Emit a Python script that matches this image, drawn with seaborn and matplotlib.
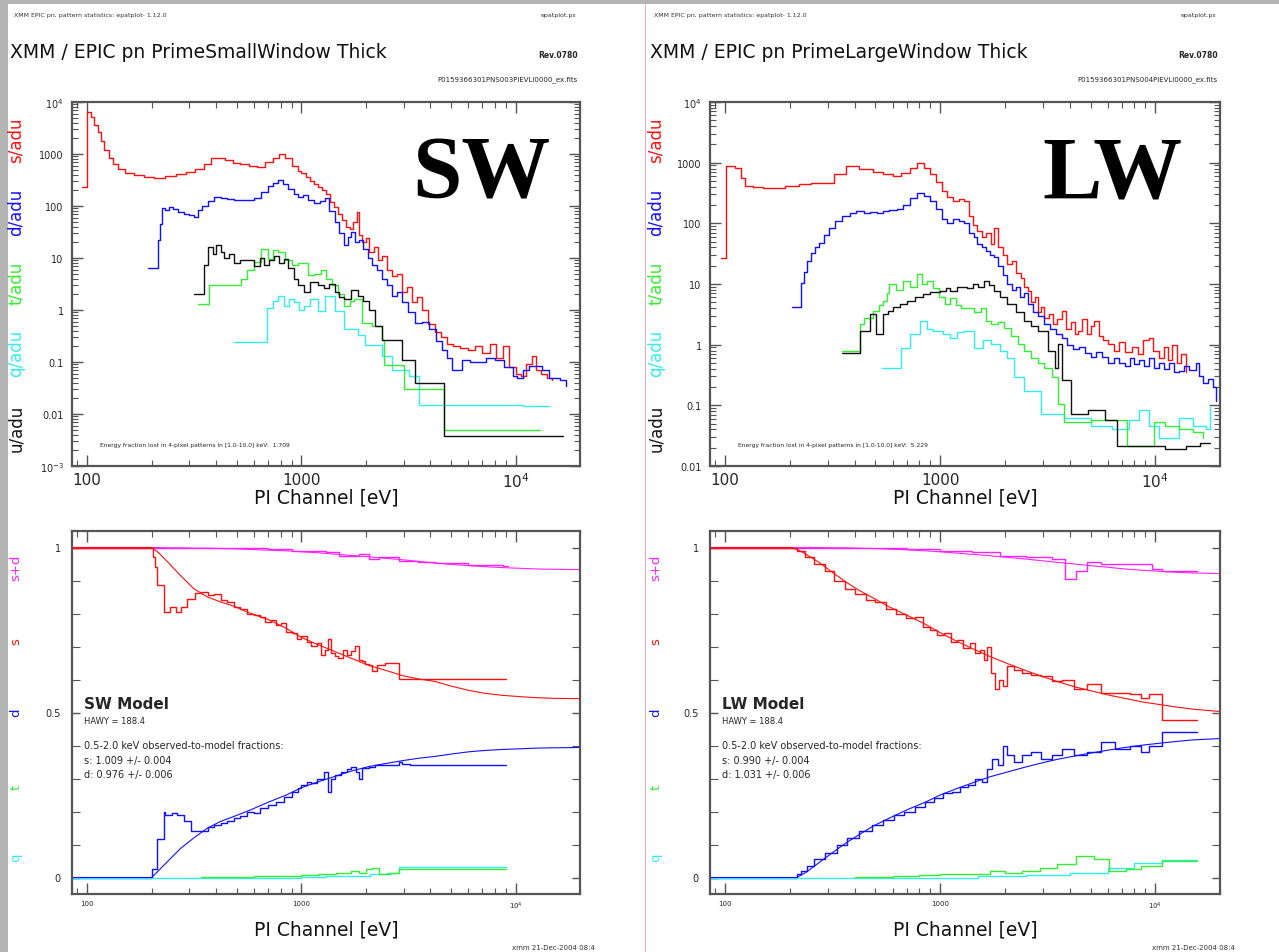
import matplotlib
matplotlib.use("Agg")
import matplotlib.pyplot as plt
import matplotlib.ticker as mticker
from matplotlib.patches import Rectangle
import seaborn as sns

sns.set_style("ticks")
plt.rcParams["font.family"] = ["DejaVu Sans"]

W, H = 1279, 953

# ---------------- SW, top panel (counts per adu) ----------------
sw_s_e = [95, 100, 104, 108, 112, 116, 120, 126, 132, 140,
          150, 165, 185, 205, 230, 260, 290, 320, 350, 380,
          410, 440, 480, 520, 570, 620, 680, 740, 790, 840,
          900, 960, 1000, 1050, 1100, 1150, 1200, 1250, 1300, 1360,
          1420, 1480, 1550, 1620, 1680, 1750, 1810, 1860, 1920, 2000,
          2080, 2180, 2280, 2380, 2500, 2650, 2800, 2960, 3120, 3280,
          3450, 3650, 3900, 4200, 4500, 4800, 5100, 5500, 6000, 6500,
          7000, 7600, 8100, 8700, 9300, 10000, 10600, 11200, 11900, 12500,
          13200, 14000, 14800]
sw_s_v = [230, 6500, 5200, 3600, 2600, 1800, 1200, 850, 650, 520,
          440, 390, 360, 350, 380, 410, 450, 520, 650, 820,
          850, 760, 680, 640, 580, 560, 700, 850, 980, 820,
          600, 480, 440, 360, 300, 270, 230, 200, 170, 120,
          95, 70, 55, 40, 36, 50, 78, 28, 20, 24,
          13, 16, 9, 11, 6, 4.5, 5, 2.2, 2.8, 1.4,
          1.8, 1.0, 0.55, 0.37, 0.3, 0.22, 0.2, 0.19, 0.17, 0.2,
          0.15, 0.22, 0.12, 0.2, 0.08, 0.06, 0.055, 0.09, 0.13, 0.07,
          0.06, 0.05, 0.045]

sw_d_e = [193, 214, 218, 224, 232, 242, 253, 265, 282, 300,
          315, 330, 345, 365, 390, 420, 450, 485, 520, 560,
          600, 650, 700, 740, 780, 820, 870, 920, 970, 1020,
          1080, 1150, 1220, 1290, 1350, 1430, 1500, 1590, 1650, 1710,
          1780, 1850, 1950, 2050, 2130, 2250, 2380, 2500, 2650, 2800,
          2960, 3150, 3380, 3650, 3940, 4250, 4530, 4800, 5050, 5350,
          5640, 6100, 6700, 7300, 8000, 8800, 9700, 10200, 10800, 11500,
          12300, 13300, 14300, 15200, 16100, 17200]
sw_d_v = [6.5, 22, 45, 90, 85, 95, 88, 78, 70, 68,
          62, 85, 100, 125, 150, 140, 135, 130, 128, 132,
          140, 190, 240, 280, 310, 260, 210, 170, 150, 160,
          130, 115, 125, 140, 80, 50, 30, 18, 25, 32,
          20, 22, 15, 10, 7.3, 6, 4, 3, 1.9, 2.2,
          1.4, 0.9, 0.57, 0.6, 0.43, 0.25, 0.17, 0.12, 0.07, 0.07,
          0.11, 0.1, 0.1, 0.12, 0.11, 0.08, 0.055, 0.05, 0.07, 0.085,
          0.085, 0.07, 0.05, 0.05, 0.046, 0.035]

sw_t_e = [328, 370, 453, 522, 560, 600, 650, 700, 740, 780,
          840, 900, 960, 1070, 1150, 1240, 1300, 1390, 1490, 1590,
          1680, 1770, 1910, 2130, 2380, 2430, 3010, 4620, 13000]
sw_t_v = [1.3, 3.0, 3.0, 4.0, 6, 8.5, 15, 9.6, 14, 13,
          9, 7.4, 8, 4.7, 5, 6, 4, 3.0, 2, 1.2,
          1.5, 1.6, 0.57, 0.5, 0.27, 0.086, 0.03, 0.0049, 0.0049]

sw_q_e = [485, 690, 740, 780, 830, 880, 925, 980, 1030, 1100,
          1200, 1290, 1430, 1590, 1840, 1980, 2380, 2650, 3170, 3530,
          10800, 14400]
sw_q_v = [0.24, 1.1, 1.5, 1.9, 1.2, 1.6, 1.4, 1.0, 1.2, 1.6,
          0.95, 1.9, 0.95, 0.43, 0.33, 0.21, 0.13, 0.07, 0.055, 0.015,
          0.014, 0.014]

sw_u_e = [315, 350, 365, 385, 400, 420, 435, 460, 485, 520,
          565, 600, 640, 670, 710, 745, 790, 830, 870, 920,
          970, 1030, 1100, 1200, 1280, 1350, 1430, 1500, 1590, 1700,
          1840, 1950, 2060, 2210, 2380, 2960, 3380, 4620, 16700]
sw_u_v = [2.0, 7.4, 16, 12, 18, 13, 10, 12, 8, 9,
          9, 7, 10, 7.4, 9, 11, 8, 9.5, 6.5, 4,
          3, 2.2, 3.4, 3, 2.6, 3.2, 2.2, 1.8, 1.6, 2.4,
          1.9, 1.5, 1.0, 0.5, 0.27, 0.11, 0.04, 0.0038, 0.0038]

# ---------------- LW, top panel ----------------
lw_s_e = [96, 101, 111, 118, 124, 135, 150, 164, 190, 220,
          250, 282, 320, 365, 420, 485, 540, 600, 660, 720,
          780, 840, 900, 960, 1020, 1080, 1150, 1220, 1290, 1360,
          1420, 1490, 1560, 1640, 1730, 1770, 1850, 1950, 2050, 2150,
          2250, 2380, 2460, 2550, 2650, 2750, 2850, 2950, 3050, 3200,
          3350, 3500, 3670, 3850, 4050, 4250, 4360, 4550, 4800, 5000,
          5200, 5450, 5700, 6050, 6400, 6800, 7200, 7800, 8300, 8800,
          9330, 9800, 10400, 11000, 11500, 12000, 12600, 13200, 13900]
lw_s_v = [27, 890, 820, 560, 410, 390, 380, 380, 420, 450,
          460, 470, 650, 890, 800, 690, 640, 600, 680, 820,
          1000, 820, 650, 480, 340, 270, 230, 250, 230, 130,
          95, 75, 60, 70, 46, 85, 40, 30, 21, 24,
          15, 12.6, 9, 7.7, 5, 6, 3.5, 4.2, 2.7, 3.2,
          2.2, 2.6, 3.6, 1.8, 2.4, 1.5, 1.7, 2.6, 1.5, 2.0,
          2.5, 1.4, 1.2, 1.03, 0.8, 1.1, 0.75, 0.9, 0.7, 1.2,
          1.3, 0.8, 0.6, 0.9, 0.55, 1.0, 0.5, 0.7, 0.36]

lw_d_e = [204, 225, 232, 240, 250, 262, 273, 288, 304, 325,
          350, 380, 407, 440, 470, 506, 540, 580, 627, 670,
          720, 780, 840, 900, 960, 1020, 1080, 1150, 1220, 1290,
          1360, 1430, 1490, 1560, 1640, 1700, 1770, 1850, 1950, 2050,
          2150, 2250, 2350, 2450, 2550, 2700, 2850, 3050, 3250, 3450,
          3670, 3900, 4150, 4400, 4700, 5000, 5300, 5640, 6000, 6400,
          6780, 7200, 7600, 8000, 8400, 8900, 9400, 9900, 10400, 11000,
          11600, 12200, 12900, 13600, 14400, 15400, 16000, 16700, 17600, 18600,
          19200]
lw_d_v = [4.2, 10.5, 16, 24, 32, 40, 48, 65, 85, 110,
          133, 150, 160, 150, 155, 150, 160, 165, 170, 200,
          260, 320, 280, 230, 170, 120, 100, 120, 110, 100,
          70, 60, 46, 40, 35, 30, 28, 20, 14, 10,
          8, 9, 6, 7, 4.7, 3.5, 3.0, 2.2, 1.8, 1.5,
          1.3, 1.0, 0.85, 0.9, 0.73, 0.62, 0.75, 0.62, 0.5, 0.6,
          0.5, 0.45, 0.6, 0.48, 0.55, 0.45, 0.6, 0.42, 0.5, 0.4,
          0.5, 0.35, 0.37, 0.45, 0.38, 0.5, 0.3, 0.23, 0.27, 0.2,
          0.12]

lw_t_e = [350, 425, 440, 485, 520, 540, 565, 580, 620, 670,
          720, 780, 820, 870, 930, 990, 1050, 1110, 1180, 1250,
          1330, 1430, 1540, 1630, 1730, 1850, 1980, 2130, 2300, 2450,
          2650, 2850, 3050, 3300, 3520, 3780, 5050, 7370, 9880, 11100,
          12900, 14900, 16700]
lw_t_v = [0.79, 2.2, 2.8, 3.6, 4.5, 5.3, 7, 10, 8, 11,
          9, 14.6, 10, 11, 8.7, 6, 4.7, 5.8, 4.5, 4.0,
          4.0, 3.5, 4.0, 2.5, 2.2, 2.4, 1.9, 1.4, 1.03, 0.8,
          0.6, 0.5, 0.42, 0.29, 0.107, 0.053, 0.058, 0.021, 0.053, 0.045,
          0.04, 0.036, 0.029]

lw_q_e = [535, 660, 723, 805, 870, 930, 1030, 1110, 1200, 1290,
          1430, 1580, 1730, 1900, 2050, 2200, 2460, 2950, 3780, 5050,
          6280, 7550, 8400, 9330, 10400, 12900, 14900, 17200, 17900]
lw_q_v = [0.42, 0.89, 1.5, 2.5, 1.8, 1.7, 1.5, 1.3, 1.6, 1.7,
          0.89, 1.2, 1.03, 0.8, 0.6, 0.29, 0.175, 0.073, 0.063, 0.046,
          0.04, 0.058, 0.084, 0.046, 0.029, 0.063, 0.046, 0.04, 0.095]

lw_u_e = [350, 425, 470, 505, 540, 570, 600, 650, 700, 760,
          830, 900, 1000, 1060, 1110, 1200, 1330, 1420, 1500, 1590,
          1680, 1770, 1900, 2050, 2250, 2460, 2650, 2860, 3160, 3400,
          3520, 3670, 4060, 4880, 5820, 6610, 11100, 13900, 16100, 17900]
lw_u_v = [0.73, 1.7, 3.2, 1.5, 3.2, 3.6, 4.1, 4.6, 5.3, 6,
          6.9, 7.5, 7.7, 8.5, 7.7, 9, 8.6, 10, 9, 11,
          9.5, 7.7, 6, 4.7, 3.5, 2.5, 2.0, 1.7, 0.79, 0.42,
          1.03, 0.26, 0.073, 0.084, 0.058, 0.021, 0.019, 0.021, 0.024, 0.024]

# ---------------- SW, bottom panel (pattern fractions) ----------------
sw_sd_e = [85, 500, 700, 900, 1100, 1300, 1500, 1710, 1850, 2060,
           2300, 2600, 2850, 3500, 4200, 6000, 8700, 9200]
sw_sd_v = [1.0, 0.998, 0.995, 0.99, 0.988, 0.985, 0.975, 0.973, 0.98, 0.965,
           0.972, 0.97, 0.96, 0.955, 0.952, 0.948, 0.945, 0.945]

sw_s_obs_e = [85, 203, 208, 213, 228, 245, 260, 273, 294, 320,
              339, 365, 390, 420, 450, 485, 520, 560, 600, 640,
              680, 720, 760, 800, 850, 900, 950, 1000, 1060, 1110,
              1180, 1240, 1290, 1330, 1380, 1440, 1490, 1560, 1640, 1710,
              1780, 1850, 1910, 1980, 2060, 2130, 2250, 2450, 2850, 9000]
sw_s_obs_v = [1.0, 0.97, 0.94, 0.885, 0.806, 0.82, 0.806, 0.82, 0.845, 0.862,
              0.866, 0.855, 0.86, 0.842, 0.835, 0.82, 0.815, 0.80, 0.795, 0.79,
              0.775, 0.78, 0.765, 0.77, 0.745, 0.74, 0.722, 0.733, 0.715, 0.703,
              0.71, 0.673, 0.69, 0.724, 0.68, 0.67, 0.664, 0.69, 0.675, 0.685,
              0.703, 0.66, 0.655, 0.648, 0.643, 0.627, 0.643, 0.65, 0.603, 0.603]

sw_d_obs_e = [85, 200, 213, 228, 232, 248, 264, 282, 304, 339,
              365, 390, 420, 450, 485, 520, 560, 600, 640, 700,
              760, 830, 900, 960, 1000, 1060, 1110, 1180, 1280, 1330,
              1380, 1430, 1540, 1640, 1710, 1800, 1850, 1920, 2060, 2200,
              2450, 2850, 2960, 3200, 9000]
sw_d_obs_v = [0, 0.027, 0.118, 0.2, 0.19, 0.195, 0.188, 0.17, 0.142, 0.142,
              0.152, 0.158, 0.165, 0.17, 0.179, 0.185, 0.2, 0.195, 0.21, 0.22,
              0.23, 0.245, 0.26, 0.27, 0.279, 0.29, 0.285, 0.3, 0.32, 0.26,
              0.3, 0.31, 0.32, 0.33, 0.336, 0.32, 0.3, 0.333, 0.335, 0.34,
              0.34, 0.35, 0.345, 0.342, 0.342]

sw_t_obs_e = [340, 600, 800, 1000, 1200, 1450, 1710, 1850, 2000, 2130,
              2300, 2600, 2850, 9000]
sw_t_obs_v = [0.003, 0.006, 0.005, 0.008, 0.012, 0.015, 0.02, 0.015, 0.025, 0.03,
              0.012, 0.015, 0.027, 0.027]

sw_q_obs_e = [85, 1000, 1300, 1700, 2100, 2500, 2850, 9000]
sw_q_obs_v = [0, 0.003, 0.006, 0.004, 0.01, 0.015, 0.032, 0.032]

# models
model_e = [85, 200, 215, 237, 273, 315, 365, 420, 485, 580,
           700, 850, 1000, 1200, 1430, 1700, 2060, 2500, 2960, 3500,
           4210, 5000, 6060, 7200, 8700, 10500, 12400, 15000, 20000]
sw_sd_mod = [1.0, 1.0, 1.0, 0.999, 0.999, 0.998, 0.998, 0.997, 0.996, 0.994,
             0.992, 0.99, 0.987, 0.984, 0.98, 0.976, 0.972, 0.967, 0.963, 0.958,
             0.953, 0.949, 0.945, 0.942, 0.939, 0.937, 0.935, 0.934, 0.933]
sw_s_mod = [1.0, 1.0, 0.985, 0.957, 0.915, 0.875, 0.85, 0.835, 0.822, 0.80,
            0.782, 0.755, 0.728, 0.705, 0.685, 0.665, 0.643, 0.627, 0.612, 0.602,
            0.594, 0.58, 0.567, 0.558, 0.552, 0.548, 0.545, 0.543, 0.542]
sw_d_mod = [0, 0, 0.02, 0.048, 0.088, 0.12, 0.15, 0.17, 0.185, 0.205,
            0.228, 0.25, 0.272, 0.29, 0.306, 0.322, 0.336, 0.346, 0.354, 0.361,
            0.367, 0.374, 0.381, 0.385, 0.388, 0.39, 0.392, 0.393, 0.394]
lw_sd_mod = [1.0, 1.0, 1.0, 1.0, 1.0, 0.999, 0.999, 0.998, 0.997, 0.995,
             0.993, 0.99, 0.987, 0.983, 0.979, 0.975, 0.97, 0.965, 0.96, 0.955,
             0.95, 0.945, 0.94, 0.935, 0.931, 0.928, 0.925, 0.923, 0.921]
lw_s_mod = [1.0, 1.0, 0.995, 0.98, 0.955, 0.925, 0.895, 0.87, 0.848, 0.82,
            0.795, 0.768, 0.742, 0.715, 0.692, 0.67, 0.648, 0.627, 0.61, 0.594,
            0.578, 0.566, 0.553, 0.543, 0.532, 0.524, 0.517, 0.51, 0.503]
lw_d_mod = [0, 0, 0.0, 0.015, 0.045, 0.075, 0.105, 0.13, 0.155, 0.18,
            0.205, 0.228, 0.25, 0.27, 0.288, 0.305, 0.32, 0.335, 0.347, 0.358,
            0.368, 0.377, 0.386, 0.394, 0.401, 0.407, 0.412, 0.417, 0.421]

# ---------------- LW, bottom panel observed ----------------
lw_sd_e = [85, 420, 700, 1000, 1400, 1900, 2500, 3300, 3800, 4300,
           4800, 5600, 7000, 9700, 10800, 15700]
lw_sd_v = [1.0, 0.998, 0.995, 0.99, 0.985, 0.975, 0.97, 0.965, 0.906, 0.93,
           0.957, 0.95, 0.95, 0.936, 0.93, 0.93]

lw_s_obs_e = [85, 215, 235, 260, 290, 320, 360, 400, 450, 500,
              560, 620, 690, 760, 830, 900, 970, 1040, 1120, 1200,
              1280, 1370, 1450, 1530, 1600, 1650, 1720, 1800, 1880, 1950,
              2050, 2200, 2400, 2650, 2950, 3300, 3700, 4200, 4800, 5600,
              6500, 7600, 8600, 9400, 10800, 15700]
lw_s_obs_v = [1.0, 0.99, 0.97, 0.95, 0.93, 0.9, 0.875, 0.86, 0.84, 0.835,
              0.815, 0.8, 0.785, 0.79, 0.76, 0.75, 0.735, 0.74, 0.715, 0.72,
              0.695, 0.71, 0.68, 0.69, 0.66, 0.7, 0.62, 0.57, 0.6, 0.58,
              0.64, 0.63, 0.62, 0.615, 0.61, 0.595, 0.6, 0.57, 0.585, 0.56,
              0.56, 0.555, 0.545, 0.555, 0.476, 0.476]

lw_d_obs_e = [85, 215, 225, 240, 260, 290, 330, 370, 420, 480,
              540, 610, 680, 760, 850, 940, 1030, 1130, 1230, 1340,
              1450, 1560, 1650, 1750, 1850, 1950, 2050, 2200, 2400, 2650,
              2950, 3300, 3700, 4200, 4800, 5600, 6500, 7600, 8600, 9400,
              10800, 15700]
lw_d_obs_v = [0, 0.01, 0.02, 0.035, 0.055, 0.075, 0.1, 0.12, 0.14, 0.16,
              0.175, 0.19, 0.2, 0.215, 0.23, 0.24, 0.255, 0.26, 0.275, 0.28,
              0.3, 0.29, 0.33, 0.36, 0.34, 0.4, 0.37, 0.35, 0.37, 0.38,
              0.36, 0.37, 0.39, 0.37, 0.38, 0.41, 0.39, 0.4, 0.38, 0.4,
              0.44, 0.44]

lw_t_obs_e = [400, 600, 800, 1000, 1300, 1700, 2000, 2400, 2900, 3500,
              4300, 5200, 6100, 7300, 8600, 10800, 15700]
lw_t_obs_v = [0.003, 0.005, 0.008, 0.01, 0.012, 0.02, 0.015, 0.02, 0.03, 0.04,
              0.065, 0.055, 0.02, 0.025, 0.035, 0.05, 0.05]

lw_q_obs_e = [85, 1500, 2500, 4000, 6000, 8000, 10800, 15700]
lw_q_obs_v = [0, 0.004, 0.008, 0.015, 0.03, 0.045, 0.052, 0.052]

# ---------------- text ----------------
sw_labels = dict(title="XMM / EPIC pn PrimeSmallWindow Thick",
                 fname="P0159366301PNS003PIEVLI0000_ex.fits",
                 big="SW", model="SW Model",
                 frac_s="s: 1.009 +/- 0.004", frac_d="d: 0.976 +/- 0.006",
                 lost="Energy fraction lost in 4-pixel patterns in [1.0-10.0] keV:  1.709")
lw_labels = dict(title="XMM / EPIC pn PrimeLargeWindow Thick",
                 fname="P0159366301PNS004PIEVLI0000_ex.fits",
                 big="LW", model="LW Model",
                 frac_s="s: 0.990 +/- 0.004", frac_d="d: 1.031 +/- 0.006",
                 lost="Energy fraction lost in 4-pixel patterns in [1.0-10.0] keV:  5.229")

RED, BLUE, GREEN, CYAN, BLACK, MAG = "#ff1010", "#1010ff", "#33ee33", "#33eeee", "#111111", "#ff22ff"
FRAME = "#555555"


def px(x0, y0, x1, y1):
    return [x0 / W, 1 - y1 / H, (x1 - x0) / W, (y1 - y0) / H]


def step(ax, e, v, color, lw=1.0):
    sns.lineplot(x=e, y=v, ax=ax, color=color, lw=lw, drawstyle="steps-post",
                 estimator=None, sort=False, legend=False)


def line(ax, e, v, color, lw=0.8):
    sns.lineplot(x=e, y=v, ax=ax, color=color, lw=lw,
                 estimator=None, sort=False, legend=False)


def style_axes(ax, xlabsize):
    ax.set_xscale("log")
    ax.set_xlim(85, 20000)
    ax.xaxis.set_major_locator(mticker.FixedLocator([100, 1000, 10000]))
    ax.xaxis.set_major_formatter(mticker.FixedFormatter(["100", "1000", "$10^4$"]))
    ax.xaxis.set_minor_locator(mticker.LogLocator(subs=range(2, 10)))
    ax.xaxis.set_minor_formatter(mticker.NullFormatter())
    ax.tick_params(which="both", direction="in", top=True, right=True, color=FRAME)
    ax.tick_params(axis="x", which="major", length=8, width=1.0, labelsize=xlabsize, pad=4)
    ax.tick_params(axis="x", which="minor", length=4, width=0.8)
    for sp in ax.spines.values():
        sp.set_color(FRAME)
        sp.set_linewidth(1.6)
    ax.set_xlabel("")
    ax.set_ylabel("")


fig = plt.figure(figsize=(W / 100, H / 100), dpi=100)
fig.patch.set_facecolor("#b4b4b4")
fig.add_artist(Rectangle((8 / W, 0), (645 - 8) / W, 1 - 5 / H,
                         transform=fig.transFigure, facecolor="white", edgecolor="none", zorder=-2))
fig.add_artist(Rectangle((646 / W, 0), (W - 646) / W, 1 - 5 / H,
                         transform=fig.transFigure, facecolor="white", edgecolor="none", zorder=-2))
fig.add_artist(Rectangle((645 / W, 0), 1.2 / W, 1 - 5 / H,
                         transform=fig.transFigure, facecolor="#f2a8b8", edgecolor="none", zorder=-1))

pages = [
    (0, sw_labels, 1e-3,
     [(sw_s_e, sw_s_v, RED), (sw_d_e, sw_d_v, BLUE), (sw_q_e, sw_q_v, CYAN),
      (sw_t_e, sw_t_v, GREEN), (sw_u_e, sw_u_v, BLACK)],
     [(sw_sd_e, sw_sd_v, MAG), (sw_s_obs_e, sw_s_obs_v, RED), (sw_d_obs_e, sw_d_obs_v, BLUE),
      (sw_q_obs_e, sw_q_obs_v, CYAN), (sw_t_obs_e, sw_t_obs_v, GREEN)],
     [(sw_sd_mod, MAG), (sw_s_mod, RED), (sw_d_mod, BLUE)]),
    (640, lw_labels, 1e-2,
     [(lw_s_e, lw_s_v, RED), (lw_d_e, lw_d_v, BLUE), (lw_q_e, lw_q_v, CYAN),
      (lw_t_e, lw_t_v, GREEN), (lw_u_e, lw_u_v, BLACK)],
     [(lw_sd_e, lw_sd_v, MAG), (lw_s_obs_e, lw_s_obs_v, RED), (lw_d_obs_e, lw_d_obs_v, BLUE),
      (lw_q_obs_e, lw_q_obs_v, CYAN), (lw_t_obs_e, lw_t_obs_v, GREEN)],
     [(lw_sd_mod, MAG), (lw_s_mod, RED), (lw_d_mod, BLUE)]),
]

for off, lab, ymin, top_series, bot_series, models in pages:
    # ---- header text
    fig.text((14 + off) / W, 1 - 15 / H, "XMM EPIC pn, pattern statistics: epatplot- 1.12.0",
             fontsize=4.5, va="center", color="#333333")
    fig.text((576 + off) / W, 1 - 15 / H, "epatplot.ps", fontsize=4.5, va="center",
             ha="right", color="#333333")
    fig.text((10 + off) / W, 1 - 52 / H, lab["title"], fontsize=13.5, va="center",
             color="#111111")
    fig.text((578 + off) / W, 1 - 56 / H, "Rev.0780", fontsize=5.5, va="center",
             ha="right", fontweight="bold")
    fig.text((578 + off) / W, 1 - 80 / H, lab["fname"], fontsize=5, va="center", ha="right")

    x0 = 72 if off == 0 else 710
    x1 = 580 if off == 0 else 1220

    # ---- top panel
    ax = fig.add_axes(px(x0, 103, x1, 467))
    ax.set_yscale("log")
    for e, v, c in top_series:
        step(ax, e, v, c)
    style_axes(ax, 11)
    ax.set_ylim(ymin, 1e4)
    if ymin < 5e-3:
        yt = [1e-3, 1e-2, 0.1, 1, 10, 100, 1000, 1e4]
        yl = ["$10^{-3}$", "0.01", "0.1", "1", "10", "100", "1000", "$10^4$"]
    else:
        yt = [1e-2, 0.1, 1, 10, 100, 1000, 1e4]
        yl = ["0.01", "0.1", "1", "10", "100", "1000", "$10^4$"]
    ax.yaxis.set_major_locator(mticker.FixedLocator(yt))
    ax.yaxis.set_major_formatter(mticker.FixedFormatter(yl))
    ax.yaxis.set_minor_locator(mticker.LogLocator(subs=range(2, 10)))
    ax.yaxis.set_minor_formatter(mticker.NullFormatter())
    ax.tick_params(axis="y", which="major", length=8, width=1.0, labelsize=7, pad=6)
    ax.tick_params(axis="y", which="minor", length=4, width=0.8)
    ax.text(0.805 if off == 0 else 0.79, 0.8, lab["big"], transform=ax.transAxes,
            fontsize=64, fontweight="bold", family="Liberation Serif", color="black",
            ha="center", va="center")
    ax.text(0.055, 0.06, lab["lost"], transform=ax.transAxes, fontsize=4.3, va="center")
    fig.text((x0 + x1) / 2 / W, 1 - 498 / H, "PI Channel [eV]", fontsize=13.5,
             ha="center", va="center", color="#111111")

    # colored y labels
    for txt, yc, c in [("s/adu", 140, RED), ("d/adu", 212, BLUE), ("t/adu", 283, GREEN),
                       ("q/adu", 353, CYAN), ("u/adu", 428, BLACK)]:
        fig.text((16 + off) / W, 1 - yc / H, txt, rotation=90, color=c, fontsize=12,
                 ha="center", va="center")

    # ---- bottom panel
    bx = fig.add_axes(px(x0, 532, x1, 895))
    for e, v, c in bot_series:
        step(bx, e, v, c)
    for v, c in models:
        line(bx, model_e, v, c)
    style_axes(bx, 5)
    bx.set_ylim(-0.05, 1.05)
    bx.yaxis.set_major_locator(mticker.FixedLocator([0, 0.5, 1]))
    bx.yaxis.set_major_formatter(mticker.FixedFormatter(["0", "0.5", "1"]))
    bx.yaxis.set_minor_locator(mticker.MultipleLocator(0.1))
    bx.tick_params(axis="y", which="major", length=6, width=1.0, labelsize=7, pad=8)
    bx.tick_params(axis="y", which="minor", length=6, width=0.8)
    bx.text(0.024, 0.526, lab["model"], transform=bx.transAxes, fontsize=11,
            fontweight="bold", va="center")
    bx.text(0.024, 0.477, "HAWY = 188.4", transform=bx.transAxes, fontsize=6, va="center")
    bx.text(0.024, 0.41, "0.5-2.0 keV observed-to-model fractions:", transform=bx.transAxes,
            fontsize=7, va="center")
    bx.text(0.024, 0.369, lab["frac_s"], transform=bx.transAxes, fontsize=7, va="center")
    bx.text(0.024, 0.331, lab["frac_d"], transform=bx.transAxes, fontsize=7, va="center")
    fig.text((x0 + x1) / 2 / W, 1 - 930 / H, "PI Channel [eV]", fontsize=13.5,
             ha="center", va="center", color="#111111")

    for txt, yc, c in [("s+d", 568, MAG), ("s", 642, RED), ("d", 713, BLUE),
                       ("t", 787, GREEN), ("q", 858, CYAN)]:
        fig.text((16 + off) / W, 1 - yc / H, txt, rotation=90, color=c, fontsize=9.5,
                 ha="center", va="center")

    fig.text((512 + off) / W, 1 - 948 / H, "xmm 21-Dec-2004 08:4", fontsize=5,
             va="center", color="#333333")

fig.savefig("out.png", dpi=100, facecolor=fig.get_facecolor())
